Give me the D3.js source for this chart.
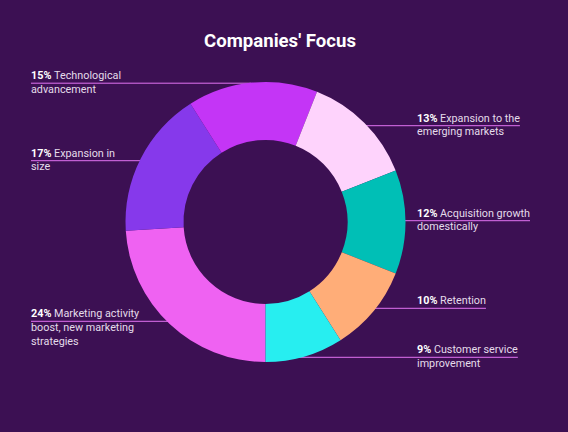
<!DOCTYPE html>
<html>
<head>
<meta charset="utf-8">
<script src="https://cdn.jsdelivr.net/npm/d3@7"></script>
<style>
  html, body { margin: 0; padding: 0; background: #3c1053; }
  svg { display: block; font-family: Roboto, "Noto Sans", sans-serif; }
</style>
</head>
<body>
<svg id="chart" width="568" height="432"></svg>
<script>

//
// Data
//

const categories = [
  'Marketing activity boost, new marketing strategies',
  'Expansion in size',
  'Technological advancement',
  'Expansion to the emerging markets',
  'Acquisition growth domestically',
  'Retention',
  'Customer service improvement'
];
const values = [24, 17, 15, 13, 12, 10, 9];
const colors = ['#ef62f2', '#8639eb', '#c435f6', '#fed3fc', '#00bfb6', '#ffad78', '#27eef0'];

// Label text, broken the way the picture breaks it
const labelLines = [
  ['Marketing activity', 'boost, new marketing', 'strategies'],
  ['Expansion in', 'size'],
  ['Technological', 'advancement'],
  ['Expansion to the', 'emerging markets'],
  ['Acquisition growth', 'domestically'],
  ['Retention'],
  ['Customer service', 'improvement']
];

// Layout
const width = 568, height = 432;
const cx = 265.5, cy = 222;
const outerR = 140, innerR = 82;
const lineH = 13.7;
const labelPos = [
  {side: 'left',  x: 31,  y: 317.3},
  {side: 'left',  x: 31,  y: 156.7},
  {side: 'left',  x: 31,  y: 79.2},
  {side: 'right', x: 417, y: 121.7},
  {side: 'right', x: 417, y: 216.7},
  {side: 'right', x: 417, y: 304.3},
  {side: 'right', x: 417, y: 353.3}
];
const lineColor = '#e172f2';

const svg = d3.select('#chart');

svg.append('rect')
    .attr('width', width)
    .attr('height', height)
    .attr('fill', '#3c1053');

svg.append('text')
    .attr('x', 280)
    .attr('y', 47)
    .attr('text-anchor', 'middle')
    .attr('fill', '#ffffff')
    .attr('font-size', 18.6)
    .attr('font-weight', 700)
    .text("Companies' Focus");

const pie = d3.pie()
    .sort(null)
    .value(d => d)
    .startAngle(Math.PI)
    .endAngle(3 * Math.PI);

const arcs = pie(values);
const arc = d3.arc().innerRadius(innerR).outerRadius(outerR);

// labels first, so the leader lines sit behind the ring
const labels = svg.append('g');

arcs.forEach((a, i) => {
  const pos = labelPos[i];
  const g = labels.append('g');

  const text = g.append('text')
      .attr('x', pos.x)
      .attr('y', pos.y)
      .attr('font-size', 10.8)
      .attr('fill', '#e4dcea');

  labelLines[i].forEach((line, j) => {
    const t = text.append('tspan')
        .attr('x', pos.x)
        .attr('y', pos.y + j * lineH);
    if (j === 0) {
      t.append('tspan')
          .attr('font-weight', 700)
          .attr('fill', '#ffffff')
          .text(values[i] + '% ');
    }
    t.append('tspan').text(line);
  });

  const ly = pos.y + 4;
  const dy = ly - cy;
  const dx = Math.sqrt(Math.max(0, outerR * outerR - dy * dy));
  let x1, x2;
  if (pos.side === 'left') {
    x1 = pos.x;
    x2 = cx - dx + 4;
  } else {
    const first = text.select('tspan').node();
    x1 = cx + dx - 4;
    x2 = pos.x + first.getComputedTextLength();
  }

  g.append('line')
      .attr('x1', x1)
      .attr('x2', x2)
      .attr('y1', ly)
      .attr('y2', ly)
      .attr('stroke', lineColor)
      .attr('stroke-width', 1);
});

svg.append('g')
    .attr('transform', `translate(${cx},${cy})`)
  .selectAll('path')
  .data(arcs)
  .join('path')
    .attr('d', arc)
    .attr('fill', (d, i) => colors[i]);

</script>
</body>
</html>
